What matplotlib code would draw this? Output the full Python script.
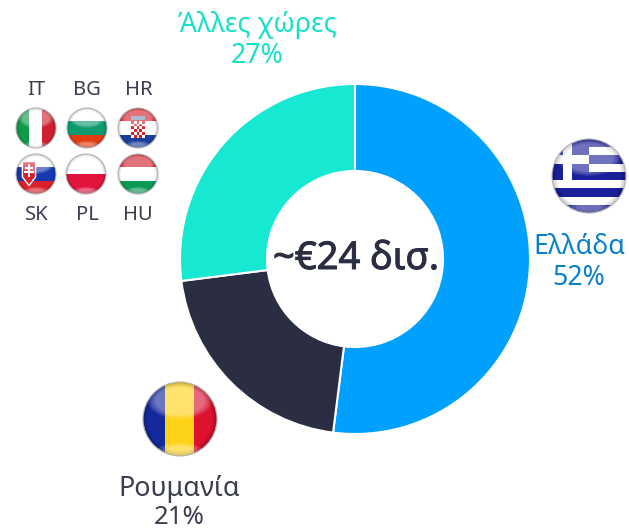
import matplotlib
matplotlib.use("Agg")
import matplotlib.pyplot as plt
import matplotlib.patheffects as pe
from matplotlib.patches import Circle, Ellipse, Rectangle, Polygon

W, H = 629, 531

regions = ["Ελλάδα", "Ρουμανία", "Άλλες χώρες"]
shares = [52, 21, 27]
wedge_colors = ["#00a0ff", "#2b2d42", "#16e8d2"]
center_label = "~€24 δισ."
small_top = ["IT", "BG", "HR"]
small_bottom = ["SK", "PL", "HU"]

plt.rcParams["font.family"] = ["Noto Sans", "DejaVu Sans"]


def py(y):
    return H - y


def gloss(ax, cx, cy, r, clip):
    # the shiny top and the soft rim of the round flags
    for k in (0.06, 0.12, 0.18):
        rim = Circle((cx, py(cy)), r, fc="none", ec="black",
                     lw=r * k, alpha=0.07, zorder=6)
        ax.add_patch(rim)
        rim.set_clip_path(clip)
    # stacked ellipses give a soft edge
    for k in (1.0, 0.94, 0.88, 0.82, 0.76):
        top = Ellipse((cx, py(cy - r * 0.5)), r * 1.75 * k, r * 1.0 * k, fc="white",
                      ec="none", alpha=0.09, zorder=7)
        ax.add_patch(top)
        top.set_clip_path(clip)
    for k in (1.0, 0.8, 0.6):
        low = Ellipse((cx, py(cy + r * 0.85)), r * 1.2 * k, r * 0.4 * k, fc="white",
                      ec="none", alpha=0.14, zorder=7)
        ax.add_patch(low)
        low.set_clip_path(clip)
    ax.add_patch(Circle((cx, py(cy)), r, fc="none", ec="#b5b5b5", lw=0.8, zorder=8))


def rect(ax, x0, y0, x1, y1, color, clip, z=3):
    p = Rectangle((x0, py(y1)), x1 - x0, y1 - y0, fc=color, ec="none", zorder=z)
    ax.add_patch(p)
    p.set_clip_path(clip)


def flag_clip(ax, cx, cy, r):
    clip = Circle((cx, py(cy)), r, fc="white", ec="none", zorder=2)
    ax.add_patch(clip)
    return clip


def hbands(ax, cx, cy, r, colors):
    clip = flag_clip(ax, cx, cy, r)
    n = len(colors)
    for i, c in enumerate(colors):
        rect(ax, cx - r, cy - r + 2 * r * i / n, cx + r, cy - r + 2 * r * (i + 1) / n, c, clip)
    return clip


def vbands(ax, cx, cy, r, colors, cuts):
    clip = flag_clip(ax, cx, cy, r)
    for i, c in enumerate(colors):
        rect(ax, cx - r + 2 * r * cuts[i], cy - r, cx - r + 2 * r * cuts[i + 1], cy + r, c, clip)
    return clip


def croatia(ax, cx, cy, r):
    clip = hbands(ax, cx, cy, r, ["#d8202c", "#ffffff", "#1b3f9e"])
    s = r * 0.14
    for i in range(6):
        for j in range(5):
            c = "#d8202c" if (i + j) % 2 == 0 else "#ffffff"
            rect(ax, cx - 2.5 * s + j * s, cy - 2.6 * s + i * s, cx - 1.5 * s + j * s,
                 cy - 1.6 * s + i * s, c, clip, z=4)
    rect(ax, cx - 2.6 * s, cy - r * 0.62, cx + 2.6 * s, cy - r * 0.38, "#7f93b8", clip, z=4)
    return clip


def slovakia(ax, cx, cy, r):
    clip = hbands(ax, cx, cy, r, ["#ffffff", "#1438b0", "#dc1f2c"])
    x0, x1 = cx - r * 0.68, cx - r * 0.02
    shield = Polygon([(x0, py(cy - r * 0.62)), (x1, py(cy - r * 0.62)), (x1, py(cy + r * 0.15)),
                      ((x0 + x1) / 2, py(cy + r * 0.58)), (x0, py(cy + r * 0.15))],
                     fc="#dc1f2c", ec="white", lw=1.0, zorder=4)
    ax.add_patch(shield)
    shield.set_clip_path(clip)
    m = (x0 + x1) / 2
    rect(ax, m - r * 0.05, cy - r * 0.5, m + r * 0.05, cy + r * 0.15, "white", clip, z=5)
    rect(ax, m - r * 0.2, cy - r * 0.33, m + r * 0.2, cy - r * 0.23, "white", clip, z=5)
    rect(ax, m - r * 0.25, cy - r * 0.14, m + r * 0.25, cy - r * 0.03, "white", clip, z=5)
    return clip


def greece(ax, cx, cy, r):
    blue = "#1a1f9a"
    clip = hbands(ax, cx, cy, r, [blue, "white"] * 4 + [blue])
    st = 2 * r / 9
    top = cy - r
    rect(ax, cx - r, top, cx, top + 5 * st, blue, clip, z=4)
    rect(ax, cx - r, top + 2 * st, cx, top + 3 * st, "white", clip, z=5)
    vx = cx - r * 0.58
    rect(ax, vx - st / 2, top, vx + st / 2, top + 5 * st, "white", clip, z=5)
    return clip


fig = plt.figure(figsize=(W / 100, H / 100), dpi=100)
ax = fig.add_axes([0, 0, 1, 1])

ax.pie(shares, colors=wedge_colors, startangle=90, counterclock=False,
       center=(355, py(259)), radius=175,
       wedgeprops=dict(width=87, edgecolor="white", linewidth=1.5))
ax.set_xlim(0, W)
ax.set_ylim(0, H)
ax.set_aspect("equal")
ax.axis("off")

mid = ax.text(356, py(259), center_label, ha="center", va="center", fontsize=27.5, color="#2b2d42", zorder=9)
mid.set_path_effects([pe.withStroke(linewidth=0.7, foreground="#2b2d42")])

ax.text(579, py(247), regions[0], ha="center", va="center", fontsize=19.3, color="#0a80c8")
ax.text(579, py(278), f"{shares[0]}%", ha="center", va="center", fontsize=19.3, color="#0a80c8")
ax.text(179, py(489), regions[1], ha="center", va="center", fontsize=19.3, color="#3a3c50")
ax.text(179, py(517), f"{shares[1]}%", ha="center", va="center", fontsize=18.5, color="#3a3c50")
ax.text(257, py(25), regions[2], ha="center", va="center", fontsize=19.3, color="#18e0c8")
ax.text(257, py(56), f"{shares[2]}%", ha="center", va="center", fontsize=19.3, color="#18e0c8")

for x, name in zip([36, 87, 139], small_top):
    ax.text(x, py(90), name, ha="center", va="center", fontsize=14.5, color="#3a3c50")
for x, name in zip([37, 87, 138], small_bottom):
    ax.text(x, py(215), name, ha="center", va="center", fontsize=14.5, color="#3a3c50")

gloss(ax, 36, 128, 20, vbands(ax, 36, 128, 20, ["#0f9a4a", "#ffffff", "#d0202f"], [0, 0.32, 0.66, 1]))
gloss(ax, 87, 128, 20, hbands(ax, 87, 128, 20, ["#ffffff", "#0a9a70", "#e03c14"]))
gloss(ax, 138, 128, 20, croatia(ax, 138, 128, 20))
gloss(ax, 36, 174, 20, slovakia(ax, 36, 174, 20))
gloss(ax, 86, 174, 20, hbands(ax, 86, 174, 20, ["#ffffff", "#e0143c"]))
gloss(ax, 138, 174, 20, hbands(ax, 138, 174, 20, ["#d0202f", "#ffffff", "#0a9a55"]))
gloss(ax, 589, 176, 37, greece(ax, 589, 176, 37))
gloss(ax, 180, 419, 37, vbands(ax, 180, 419, 37, ["#142a9c", "#ffd21a", "#dc1230"], [0, 0.3, 0.69, 1]))

fig.savefig("out.png", dpi=100)
